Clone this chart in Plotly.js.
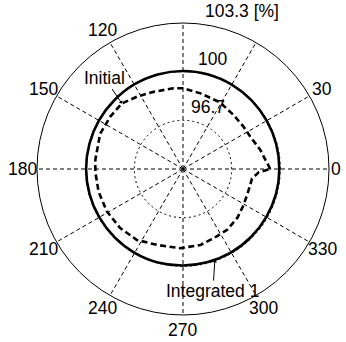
<!DOCTYPE html>
<html>
<head>
<meta charset="utf-8">
<script src="https://cdn.plot.ly/plotly-3.0.1.min.js"></script>
<style>html,body{margin:0;padding:0;background:#fff;}#chart{width:346px;height:342px;}</style>
</head>
<body>
<div id="chart"></div>
<script>
// Radial scale (percent)
const rMin = 93.333, rMax = 103.333;
const radialTickVals = [96.667, 100, 103.333];
const radialTickText = ["96.7", "100", "103.3 [%]"];

// Angular ticks (degrees) and their labels
const angleTickVals = [0, 30, 60, 90, 120, 150, 180, 210, 240, 270, 300, 330];
const angleTickText = ["0", "30", "", "", "120", "150", "180", "210", "240", "270", "300", "330"];
const angleLabelRadius = [1.05, 1.1, 1.1, 1.1, 1.1, 1.1, 1.1, 1.1, 1.1, 1.1, 1.1, 1.1];

// Initial (dashed)
const initialTheta = [0, 14, 26, 35, 47, 61, 77, 90, 97, 111, 122, 133, 144, 157, 174, 182, 195, 209, 223, 237, 251, 268, 283, 294, 306, 318, 329, 338, 347, 352, 357.5, 360];
const initialR = [99.31, 98.78, 98.44, 98.39, 98.40, 98.55, 98.65, 98.86, 98.90, 98.99, 99.20, 99.47, 99.47, 99.50, 99.37, 99.34, 99.32, 99.30, 99.24, 99.13, 98.83, 98.76, 98.67, 98.52, 98.48, 98.34, 98.16, 98.07, 98.07, 98.10, 98.52, 99.31];

// Integrated 1 (solid)
const integratedTheta = [0, 15, 30, 45, 60, 75, 90, 105, 120, 135, 150, 165, 180, 195, 210, 225, 240, 255, 270, 285, 300, 315, 330, 345, 360];
const integratedR = [99.93, 99.94, 99.95, 99.98, 100.01, 100.04, 100.05, 100.04, 100.02, 99.99, 99.98, 99.97, 99.97, 99.96, 99.95, 99.95, 99.96, 99.96, 99.94, 99.93, 99.93, 99.92, 99.92, 99.93, 99.93];

const FONT = "Liberation Sans, Arial, Helvetica, sans-serif";
const FS = 17.5;

function toPaper(r, deg) {
  const f = (r - rMin) / (rMax - rMin) * 0.5;
  const a = deg * Math.PI / 180;
  return {x: 0.5 + f * Math.cos(a), y: 0.5 + f * Math.sin(a)};
}

const traces = [
  {type: 'scatterpolar', mode: 'lines', r: integratedR, theta: integratedTheta,
   line: {color: '#000', width: 2.6, shape: 'spline'}, name: 'Integrated 1', hoverinfo: 'skip'},
  {type: 'scatterpolar', mode: 'lines', r: initialR, theta: initialTheta,
   line: {color: '#000', width: 2.6, dash: '6px,3.5px'}, name: 'Initial', hoverinfo: 'skip'}
];

const annotations = [];
// angular labels, centred at 1.1 x outer radius
angleTickVals.forEach((a, i) => {
  if (!angleTickText[i]) return;
  const p = toPaper(rMin + angleLabelRadius[i] * (rMax - rMin), a);
  annotations.push({xref: 'paper', yref: 'paper', x: p.x, y: p.y, text: angleTickText[i],
    showarrow: false, xanchor: 'center', yanchor: 'middle', borderpad: 0,
    font: {family: FONT, size: FS, color: '#000'}});
});
// radial labels (at 82 deg, left/bottom aligned)
radialTickVals.forEach((v, i) => {
  const p = toPaper(v + (rMax - rMin) / 3 / 20, 82);
  annotations.push({xref: 'paper', yref: 'paper', x: p.x, y: p.y, text: radialTickText[i],
    showarrow: false, xanchor: 'left', yanchor: 'bottom', borderpad: 0,
    font: {family: FONT, size: FS, color: '#000'}});
});
// Initial label with arrow
const hI = toPaper(99.47, 133);
annotations.push({xref: 'paper', yref: 'paper', x: hI.x, y: hI.y, text: 'Initial', showarrow: true,
  ax: -17, ay: -25, xanchor: 'center', yanchor: 'middle',
  arrowhead: 1, arrowsize: 0.8, arrowwidth: 1, arrowcolor: '#000', standoff: 0, borderpad: 0,
  font: {family: FONT, size: FS, color: '#000'}});
// Integrated label with arrow
const hG = toPaper(99.94, 289.3);
annotations.push({xref: 'paper', yref: 'paper', x: hG.x, y: hG.y, text: 'Integrated 1', showarrow: true,
  ax: -2, ay: 31, xanchor: 'center', yanchor: 'middle',
  arrowhead: 1, arrowsize: 0.8, arrowwidth: 1, arrowcolor: '#000', standoff: 0, borderpad: 0,
  font: {family: FONT, size: FS, color: '#000'}});

const layout = {
  width: 346, height: 342,
  margin: {l: 37, r: 17, t: 23, b: 27, pad: 0},
  paper_bgcolor: '#fff',
  showlegend: false,
  font: {family: FONT, size: FS, color: '#000'},
  polar: {
    domain: {x: [0, 1], y: [0, 1]},
    bgcolor: '#fff',
    radialaxis: {
      range: [rMin, rMax], tickmode: 'array', tickvals: radialTickVals,
      showticklabels: false, ticks: '', showline: false,
      showgrid: true, gridcolor: '#000', gridwidth: 1, griddash: '2px,3px'
    },
    angularaxis: {
      rotation: 0, direction: 'counterclockwise',
      tickmode: 'array', tickvals: angleTickVals, ticktext: angleTickText,
      showticklabels: false,
      ticks: '', showline: true, linecolor: '#000', linewidth: 1,
      showgrid: true, gridcolor: '#000', gridwidth: 1, griddash: '4px,3px'
    }
  },
  annotations: annotations
};

Plotly.newPlot('chart', traces, layout, {staticPlot: true, displayModeBar: false});
</script>
</body>
</html>
